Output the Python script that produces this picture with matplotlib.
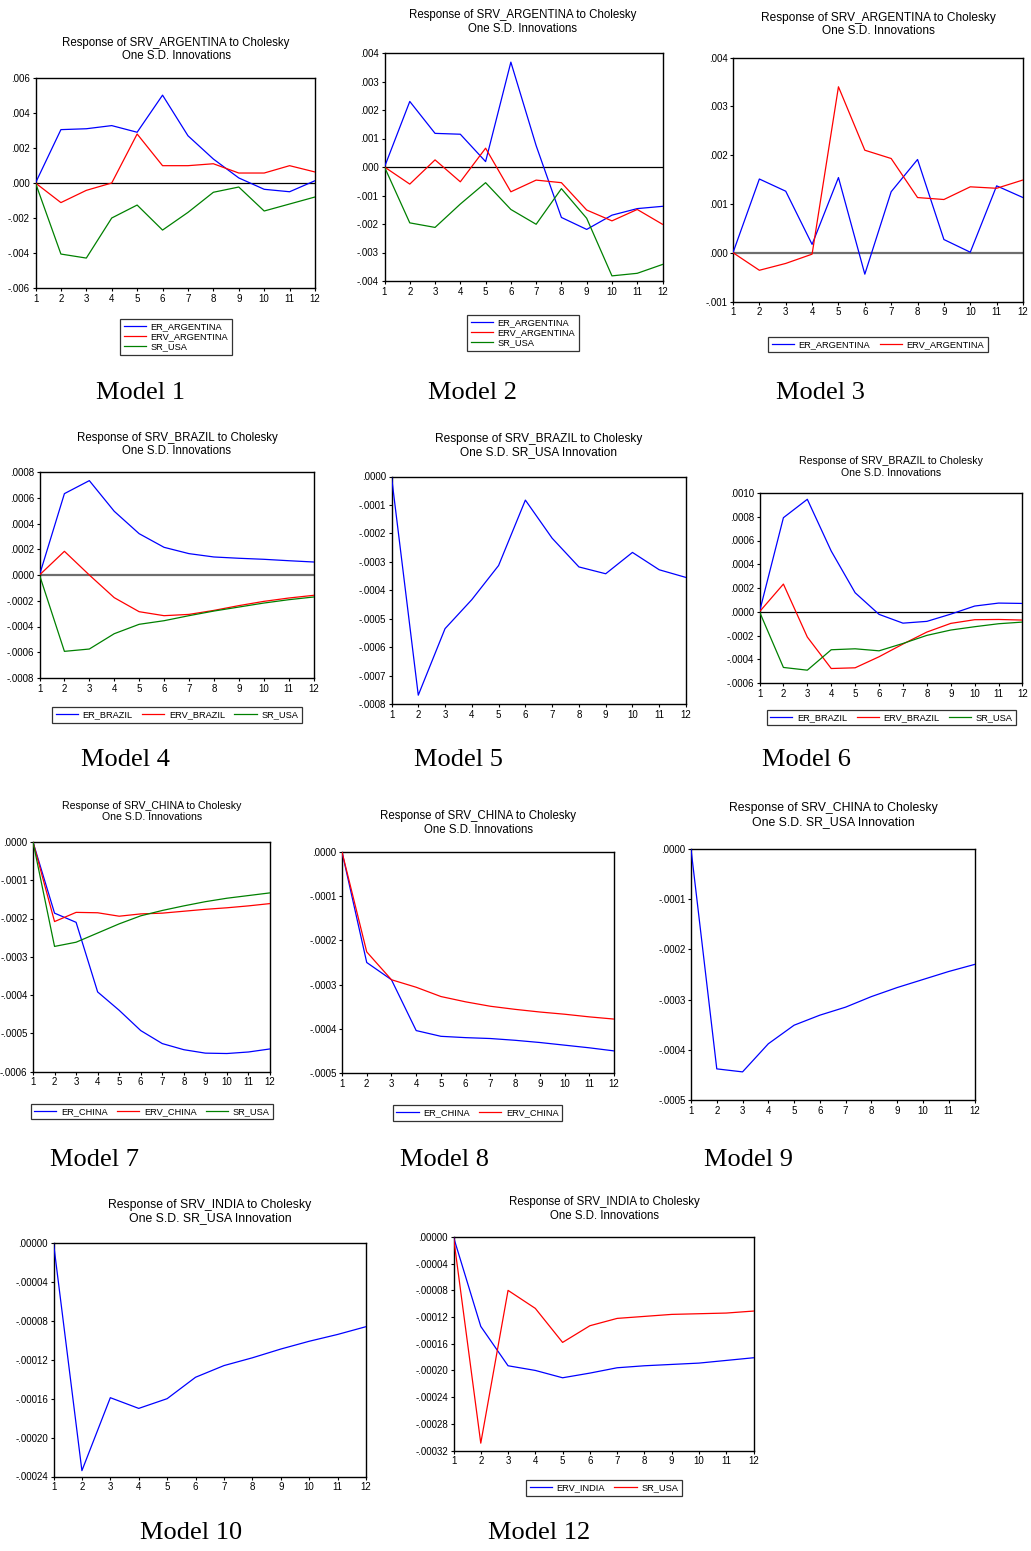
import numpy as np
import matplotlib.pyplot as plt
from matplotlib.ticker import FixedLocator, FuncFormatter

plt.rcParams['font.family'] = ['Liberation Sans', 'DejaVu Sans']

W, H = 1031, 1551
steps = np.arange(1, 13)

# ---- data ----
# Model 1
m1_er = [0, .00305, .00310, .00328, .00290, .00502, .00270, .00137, .00029, -.00036, -.00050, .00013]
m1_erv = [0, -.00112, -.00042, 0, .00280, .00099, .00099, .00110, .00057, .00057, .00099, .00063]
m1_sr = [0, -.00406, -.00429, -.00200, -.00126, -.00269, -.00168, -.00053, -.00023, -.00160, -.00120, -.00080]
# Model 2
m2_er = [0, .00230, .00118, .00115, .00019, .00368, .00075, -.00177, -.00219, -.00169, -.00146, -.00138]
m2_erv = [0, -.00060, .00025, -.00052, .00066, -.00087, -.00046, -.00055, -.00151, -.00189, -.00149, -.00201]
m2_sr = [0, -.00196, -.00212, -.00130, -.00055, -.00149, -.00201, -.00076, -.00180, -.00382, -.00373, -.00342]
# Model 3
m3_er = [0, .00151, .00126, .00017, .00154, -.00044, .00125, .00191, .00027, .00001, .00137, .00113]
m3_erv = [0, -.00036, -.00022, -.00003, .00340, .00210, .00193, .00113, .00109, .00135, .00132, .00149]
# Model 4
m4_er = [0, .000632, .000733, .000495, .000321, .000215, .000166, .000140, .000130, .000122, .000111, .000101]
m4_erv = [0, .000184, 0, -.000176, -.000285, -.000316, -.000306, -.000275, -.000238, -.000205, -.000179, -.000158]
m4_sr = [0, -.000593, -.000575, -.000456, -.000383, -.000355, -.000316, -.000280, -.000249, -.000218, -.000192, -.000171]
# Model 5
m5_sr = [0, -.000769, -.000535, -.000433, -.000313, -.000083, -.000217, -.000318, -.000342, -.000267, -.000328, -.000355]
# Model 6
m6_er = [0, .000792, .000947, .000511, .000160, -.000022, -.000096, -.000081, -.000020, .000048, .000073, .000070]
m6_erv = [0, .000233, -.000213, -.000478, -.000472, -.000379, -.000272, -.000171, -.000098, -.000067, -.000065, -.000070]
m6_sr = [0, -.000469, -.000492, -.000320, -.000312, -.000329, -.000267, -.000199, -.000154, -.000126, -.000101, -.000087]
# Model 7
m7_er = [0, -.000186, -.000210, -.000392, -.000440, -.000493, -.000527, -.000543, -.000552, -.000553, -.000549, -.000541]
m7_erv = [0, -.000208, -.000184, -.000185, -.000194, -.000188, -.000186, -.000181, -.000176, -.000172, -.000167, -.000161]
m7_sr = [0, -.000273, -.000262, -.000238, -.000214, -.000193, -.000179, -.000167, -.000156, -.000147, -.000140, -.000133]
# Model 8
m8_er = [0, -.000250, -.000289, -.000404, -.000417, -.000420, -.000422, -.000426, -.000431, -.000437, -.000443, -.000450]
m8_erv = [0, -.000226, -.000289, -.000306, -.000327, -.000339, -.000349, -.000356, -.000362, -.000367, -.000373, -.000378]
# Model 9
m9_sr = [0, -.000438, -.000444, -.000388, -.000351, -.000331, -.000315, -.000294, -.000276, -.000260, -.000244, -.000230]
# Model 10
m10_sr = [0, -.000234, -.000159, -.000170, -.000160, -.000138, -.000126, -.000118, -.000109, -.000101, -.000094, -.000086]
# Model 12
m12_erv = [0, -.000134, -.000193, -.000200, -.000211, -.000204, -.000196, -.000193, -.000191, -.000189, -.000185, -.000181]
m12_sr = [0, -.000309, -.000080, -.000107, -.000158, -.000133, -.000122, -.000119, -.000116, -.000115, -.000114, -.000111]

BLUE, RED, GREEN = '#0000ff', '#ff0000', '#008000'

fig = plt.figure(figsize=(W / 100, H / 100), dpi=100)


def px(l, t, r, b):
    return [l / W, 1 - b / H, (r - l) / W, (b - t) / H]


def fmt_for(dec):
    def f(v, pos):
        s = f"{abs(v):.{dec}f}".lstrip('0')
        if v < 0 and abs(v) > 1e-12:
            s = '-' + s
        return s
    return f


def panel(box, series, names, ylim, ystep, dec, title, title_xy, title_fs,
          legend=None, ncol=1, zero=None, label=None, label_xy=None):
    ax = fig.add_axes(px(*box))
    cols = [BLUE, RED, GREEN]
    handles = []
    for s, n, c in zip(series, names, cols):
        h, = ax.plot(steps, s, color=c, lw=0.9, label=n, zorder=3)
        handles.append(h)
    if zero == 'black':
        ax.axhline(0, color='black', lw=0.9, zorder=2)
    elif zero == 'gray':
        ax.axhline(0, color='#6e6e6e', lw=1.6, zorder=2)
    ax.set_xlim(1, 12)
    ax.set_ylim(*ylim)
    ax.xaxis.set_major_locator(FixedLocator(steps))
    yt = np.round(np.arange(ylim[0], ylim[1] + ystep / 2, ystep), 8)
    ax.yaxis.set_major_locator(FixedLocator(yt))
    ax.yaxis.set_major_formatter(FuncFormatter(fmt_for(dec)))
    ax.tick_params(direction='out', length=2.5, width=0.8, labelsize=7, pad=1.5)
    for sp in ax.spines.values():
        sp.set_linewidth(1.0)
    fig.text(title_xy[0] / W, 1 - title_xy[1] / H, title, ha='center', va='center',
             fontsize=title_fs, linespacing=1.15)
    if legend is not None:
        lg = fig.legend(handles=handles, loc='center',
                        bbox_to_anchor=(legend[0] / W, 1 - legend[1] / H),
                        ncol=ncol, fontsize=6.7, frameon=True, fancybox=False,
                        handlelength=2.4, handletextpad=0.5, columnspacing=1.0,
                        borderpad=0.35, labelspacing=0.1, borderaxespad=0)
        lg.get_frame().set_edgecolor('black')
        lg.get_frame().set_linewidth(0.9)
    fig.text(label_xy[0] / W, 1 - label_xy[1] / H, label, ha='center', va='center',
             fontsize=19, family='Liberation Serif')
    return ax


T1 = "Response of SRV_ARGENTINA to Cholesky\nOne S.D. Innovations"
T2 = "Response of SRV_BRAZIL to Cholesky\nOne S.D. Innovations"
T3 = "Response of SRV_CHINA to Cholesky\nOne S.D. Innovations"
T4 = "Response of SRV_INDIA to Cholesky\nOne S.D. Innovations"

panel((35.5, 78, 315, 288), [m1_er, m1_erv, m1_sr], ['ER_ARGENTINA', 'ERV_ARGENTINA', 'SR_USA'],
      (-.006, .006), .002, 3, T1, (176, 49.5), 8.3,
      legend=(176, 337), ncol=1, zero='black', label='Model 1', label_xy=(140, 393))

panel((384.5, 53, 662.5, 281), [m2_er, m2_erv, m2_sr], ['ER_ARGENTINA', 'ERV_ARGENTINA', 'SR_USA'],
      (-.004, .004), .001, 3, T1, (523, 22), 8.3,
      legend=(523, 333), ncol=1, zero='black', label='Model 2', label_xy=(473, 393))

panel((733, 57.5, 1023, 301.5), [m3_er, m3_erv], ['ER_ARGENTINA', 'ERV_ARGENTINA'],
      (-.001, .004), .001, 3, T1, (878, 24.5), 8.6,
      legend=(878, 344.5), ncol=2, zero='gray', label='Model 3', label_xy=(820, 393))

panel((39.5, 472, 313.5, 678), [m4_er, m4_erv, m4_sr], ['ER_BRAZIL', 'ERV_BRAZIL', 'SR_USA'],
      (-.0008, .0008), .0002, 4, T2, (177, 444.5), 8.3,
      legend=(177, 715), ncol=3, zero='gray', label='Model 4', label_xy=(125, 760))

panel((391.5, 476.5, 686, 704), [m5_sr], ['SR_USA'],
      (-.0008, 0), .0001, 4, "Response of SRV_BRAZIL to Cholesky\nOne S.D. SR_USA Innovation", (539, 445.5), 8.6,
      label='Model 5', label_xy=(458, 760))

panel((759.5, 493, 1022.5, 683), [m6_er, m6_erv, m6_sr], ['ER_BRAZIL', 'ERV_BRAZIL', 'SR_USA'],
      (-.0006, .0010), .0002, 4, T2, (891, 467), 7.6,
      legend=(891.5, 717.5), ncol=3, zero='black', label='Model 6', label_xy=(806, 760))

panel((33, 842, 270, 1071.5), [m7_er, m7_erv, m7_sr], ['ER_CHINA', 'ERV_CHINA', 'SR_USA'],
      (-.0006, 0), .0001, 4, T3, (152, 811.5), 7.6,
      legend=(152, 1111.5), ncol=3, label='Model 7', label_xy=(95, 1160))

panel((342, 852, 614, 1073), [m8_er, m8_erv], ['ER_CHINA', 'ERV_CHINA'],
      (-.0005, 0), .0001, 4, T3, (478, 823), 8.3,
      legend=(477.5, 1113), ncol=2, label='Model 8', label_xy=(444, 1160))

panel((691, 849, 974.5, 1100), [m9_sr], ['SR_USA'],
      (-.0005, 0), .0001, 4, "Response of SRV_CHINA to Cholesky\nOne S.D. SR_USA Innovation", (833, 815), 8.8,
      label='Model 9', label_xy=(748, 1160))

panel((53.5, 1243, 366, 1476.5), [m10_sr], ['SR_USA'],
      (-.00024, 0), .00004, 5, "Response of SRV_INDIA to Cholesky\nOne S.D. SR_USA Innovation", (210, 1211.5), 8.8,
      label='Model 10', label_xy=(191, 1533))

panel((453.5, 1237, 753.5, 1450.5), [m12_erv, m12_sr], ['ERV_INDIA', 'SR_USA'],
      (-.00032, 0), .00004, 5, T4, (604, 1209), 8.3,
      legend=(604, 1488), ncol=2, label='Model 12', label_xy=(539, 1533))

# Model 12 uses blue/red ordering already; recolour nothing else
fig.savefig('out.png', dpi=100, facecolor='white')
